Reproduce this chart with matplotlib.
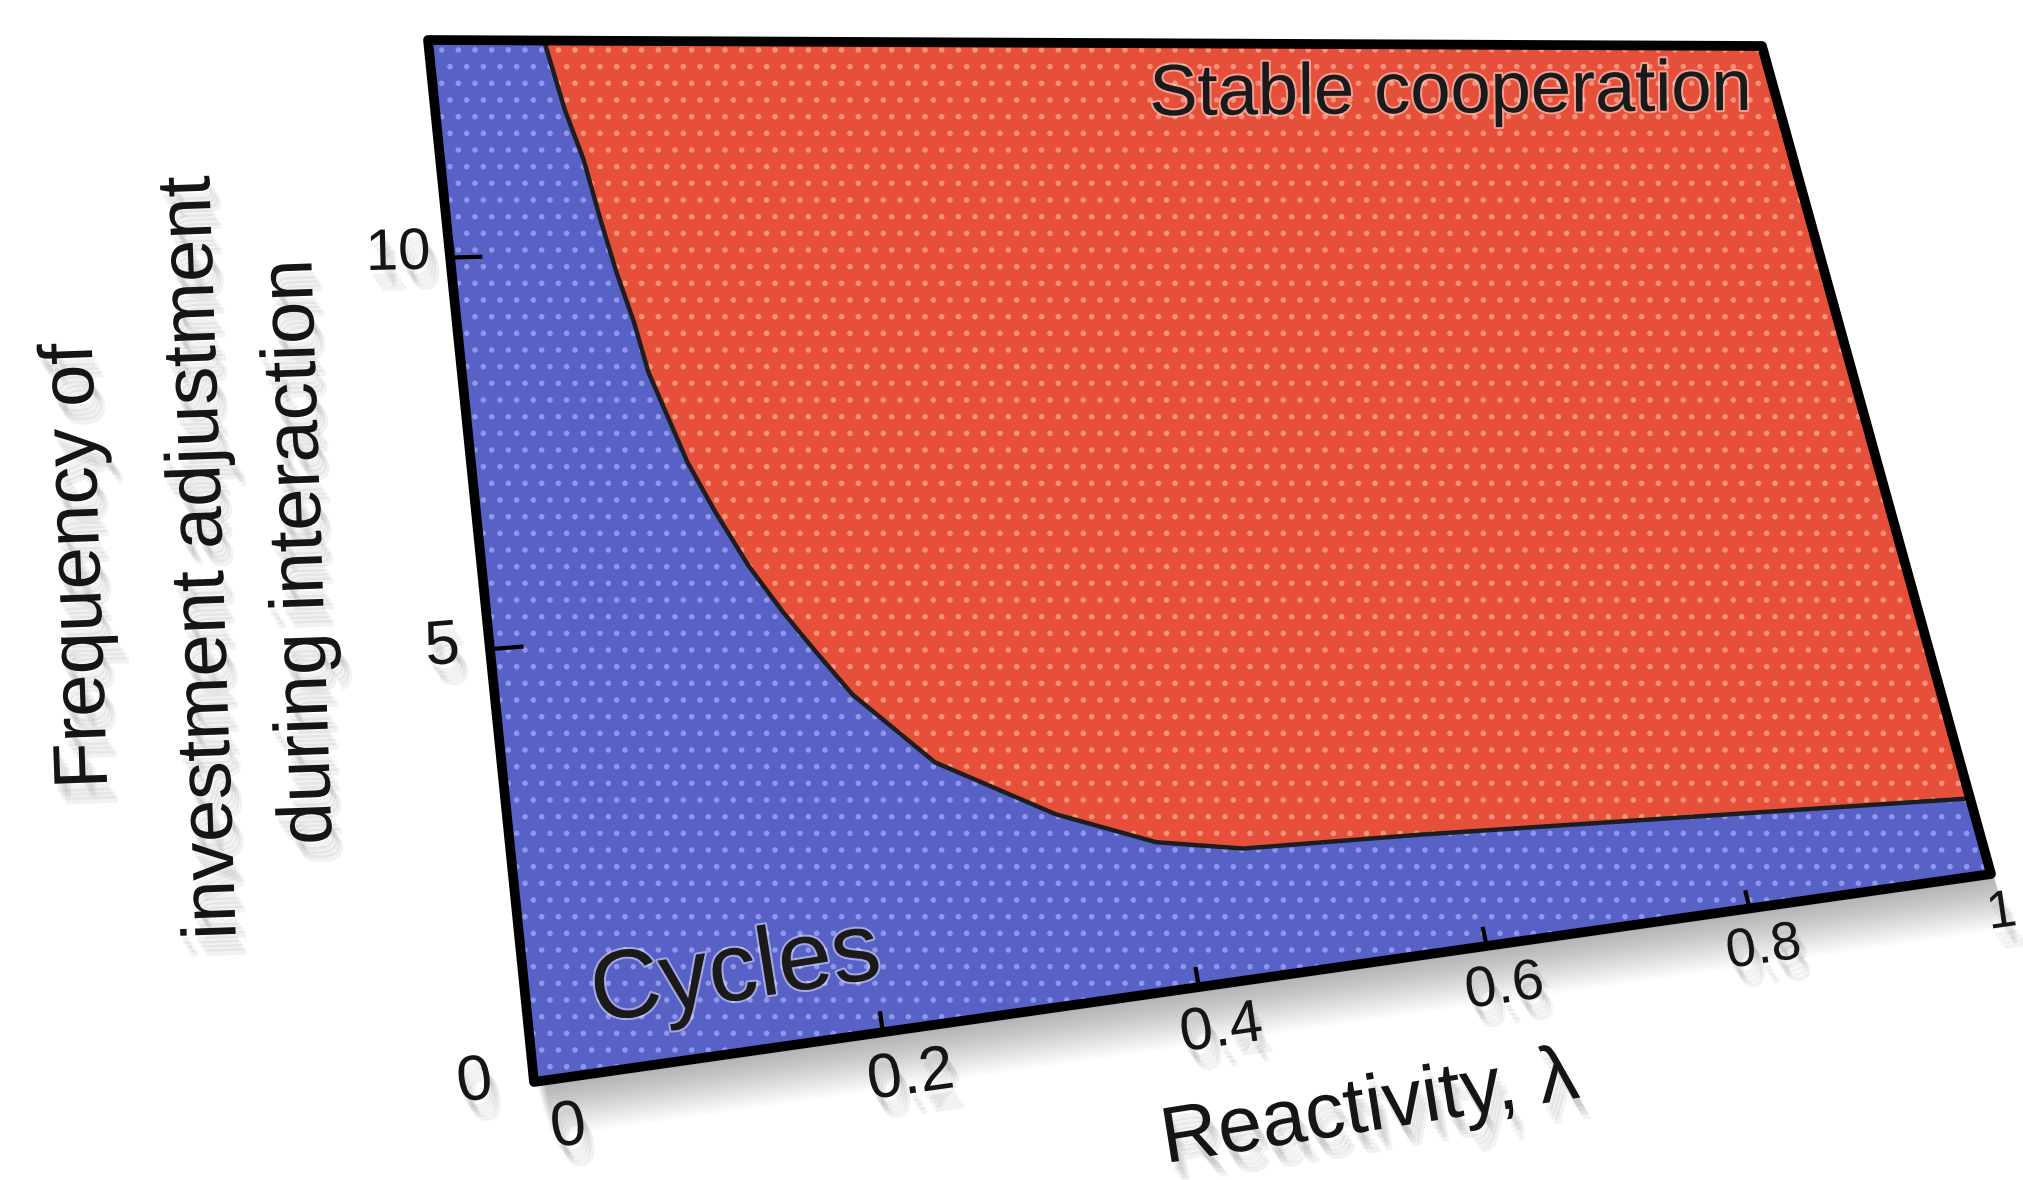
import numpy as np
import matplotlib
matplotlib.use("Agg")
import matplotlib.pyplot as plt
from matplotlib import font_manager
from matplotlib import patheffects as pe
from matplotlib.patches import Polygon
from matplotlib.transforms import Affine2D, Transform

# phase boundary: below it the dynamics cycle, above it cooperation is stable
reactivity = [0.072, 0.080, 0.088, 0.094, 0.100, 0.107, 0.112, 0.129, 0.142, 0.158,
              0.175, 0.192, 0.211, 0.256, 0.327, 0.389, 0.446, 0.571, 0.756, 1.0]
frequency = [13.0, 12.0, 11.3, 10.46, 9.73, 9.05, 8.38, 7.17, 6.51, 5.79,
             5.18, 4.64, 4.06, 3.12, 2.32, 1.83, 1.62, 1.52, 1.33, 1.08]

x_ticks = [0, 0.2, 0.4, 0.6, 0.8, 1]
x_tick_labels = ["0", "0.2", "0.4", "0.6", "0.8", "1"]
y_ticks = [0, 5, 10]
y_tick_labels = ["0", "5", "10"]
x_range = (0.0, 1.0)
y_range = (0.0, 13.0)

# the plot is shown tilted in 3D: where the frame corners land (pixels, y down)
FRAME_CORNERS = [(534, 1082), (1991, 874), (1762, 46), (428, 40)]
W, H, DPI = 2024, 1180, 100

BLUE, BLUE_DOT = "#5761c6", "#8e97ea"
RED, RED_DOT = "#e64f39", "#fb9179"
INK = "#151515"

installed = {f.name for f in font_manager.fontManager.ttflist}
NARROW = "Liberation Sans Narrow" if "Liberation Sans Narrow" in installed else "Liberation Sans"
plt.rcParams["font.family"] = ["Liberation Sans", "DejaVu Sans"]
plt.rcParams["hatch.linewidth"] = 1.6


class Homography(Transform):
    """Projective map from the flat data rectangle onto the tilted frame."""
    input_dims = output_dims = 2
    is_separable = False
    has_inverse = False

    def __init__(self, src, dst):
        super().__init__()
        rows, rhs = [], []
        for (x, y), (X, Y) in zip(src, dst):
            rows.append([x, y, 1, 0, 0, 0, -X * x, -X * y])
            rows.append([0, 0, 0, x, y, 1, -Y * x, -Y * y])
            rhs += [X, Y]
        h = np.linalg.solve(np.array(rows, float), np.array(rhs, float))
        self.m = np.append(h, 1.0).reshape(3, 3)

    def transform_non_affine(self, values):
        v = np.atleast_2d(np.asarray(values, float))
        p = np.c_[v, np.ones(len(v))] @ self.m.T
        return p[:, :2] / p[:, 2:3]


def soft_shadow(strength=0.05):
    offs = [(2, -6), (4, -9), (6, -12), (8, -15)]
    return [pe.SimplePatchShadow(offset=o, shadow_rgbFace="black", alpha=strength) for o in offs] + [pe.Normal()]


fig = plt.figure(figsize=(W / DPI, H / DPI), dpi=DPI)
ax = fig.add_axes([0, 0, 1, 1])
ax.set_xlim(0, W)
ax.set_ylim(H, 0)
ax.axis("off")

x0, x1 = x_range
y0, y1 = y_range
corners_data = [(x0, y0), (x1, y0), (x1, y1), (x0, y1)]
persp = Homography(corners_data, FRAME_CORNERS) + ax.transData


def angle_at(x, y, dx, dy):
    a, b = persp.transform([(x, y), (x + dx, y + dy)])
    return np.degrees(np.arctan2(b[1] - a[1], b[0] - a[0]))


# blurred drop shadow under the tilted panel
for k in range(1, 18):
    shadow = persp + Affine2D().translate(1 + 1.0 * k, -3.2 * k)
    ax.add_patch(Polygon(corners_data, closed=True, facecolor="black", alpha=0.018,
                         lw=0, transform=shadow, zorder=0))

# regions
ax.add_patch(Polygon(corners_data, closed=True, facecolor=BLUE, edgecolor=BLUE_DOT,
                     hatch=".", lw=0, transform=persp, zorder=1))
red_x = reactivity + [x1]
red_y = frequency + [y1]
ax.fill(red_x, red_y, facecolor=RED, edgecolor=RED_DOT, hatch=".", lw=0,
        transform=persp, zorder=2)
ax.plot(reactivity, frequency, color="#1e1e1e", lw=3.2, solid_joinstyle="round",
        transform=persp, zorder=3)

# frame and inward ticks
ax.add_patch(Polygon(corners_data, closed=True, fill=False, edgecolor="black", lw=7,
                     joinstyle="round", transform=persp, zorder=5))
for t in x_ticks[1:-1]:
    ax.plot([t, t], [y0, y0 + 0.22], color="black", lw=3, transform=persp, zorder=4)
for t in y_ticks[1:]:
    ax.plot([x0, x0 + 0.018], [t, t], color="black", lw=3, transform=persp, zorder=4)

# tick labels
x_sizes = [46, 45, 43, 41, 39, 38]
for t, lab, fs in zip(x_ticks, x_tick_labels, x_sizes):
    ax.text(t + 0.016 * (1 - t), y0 - 0.55, lab, transform=persp, ha="center", va="center",
            fontsize=fs, color=INK, rotation=angle_at(t, y0, 0.05, 0),
            path_effects=soft_shadow())
y_sizes = [46, 45, 42]
for t, lab, fs in zip(y_ticks, y_tick_labels, y_sizes):
    ax.text(x0 - 0.02 + 0.0009 * t, t + 0.05, lab, transform=persp, ha="right", va="center",
            fontsize=fs, color=INK, rotation=angle_at(x0, t, 0.05, 0),
            path_effects=soft_shadow())

# axis titles
ax.text(1370, 1110, "Reactivity, λ", ha="center", va="center", fontsize=57,
        color=INK, rotation=9, path_effects=soft_shadow())
ylabel_lines = ["Frequency of", "investment adjustment", "during interaction"]
ylabel_x = [80, 203, 302]
ylabel_y = [566, 558, 552]
ysize = 68 if NARROW != "Liberation Sans" else 55
for line, px, py in zip(ylabel_lines, ylabel_x, ylabel_y):
    ax.text(px, py, line, ha="center", va="center", fontsize=ysize, rotation=92,
            family=[NARROW, "DejaVu Sans"], color=INK, path_effects=soft_shadow())

# region names
halo = [pe.withStroke(linewidth=3, foreground=(1, 1, 1, 0.45))]
ax.text(1451, 94, "Stable cooperation", ha="center", va="center", fontsize=52,
        color="#1a1a1a", rotation=0.5, path_effects=halo, zorder=6)
ax.text(736, 975, "Cycles", ha="center", va="center", fontsize=70,
        color="#1a1a1a", rotation=9, path_effects=halo, zorder=6)

fig.savefig("out.png", dpi=DPI)
